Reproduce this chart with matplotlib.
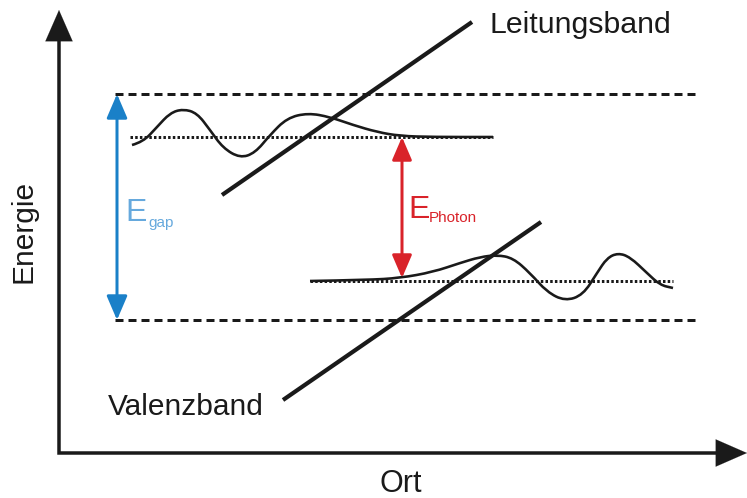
import matplotlib
matplotlib.use("Agg")
import matplotlib.pyplot as plt
from matplotlib.path import Path
from matplotlib.patches import PathPatch

plt.rcParams['font.family'] = ['Liberation Sans', 'DejaVu Sans']
plt.rcParams['lines.scale_dashes'] = False

# --- schematic data, in picture pixels (y down) ---
axis_origin = (59, 453)
axis_x_end = 747
axis_y_end = 10

band_edges_y = [94, 320]          # dashed: conduction / valence band edge
band_edges_x = [115, 697]
cond_level = (137, 130, 493)      # dotted: y, x0, x1
val_level = (281, 310, 673)

cond_band_line = [(222, 195), (472, 22)]
val_band_line = [(283, 400), (541, 222)]

# wave function (conduction side)
cond_wave_x = [132, 143, 157, 170, 183, 197, 210, 223, 240, 255, 270, 287,
               308, 330, 353, 377, 400, 433, 493]
cond_wave_y = [145, 142, 127, 113, 109, 113, 130, 148, 158, 153, 135, 118,
               113, 117, 125, 132, 136, 137, 137]
# wave function (valence side)
val_wave_x = [310, 367, 400, 433, 460, 480, 497, 513, 530, 547, 565, 583,
              597, 607, 618, 630, 647, 660, 673]
val_wave_y = [281, 280, 278, 272, 263, 257, 255, 258, 273, 292, 301, 295,
              273, 258, 253, 257, 273, 285, 288]

gap_arrow = (117, 94, 320)
photon_arrow = (402, 137, 278)

px = 0.72  # points per pixel at dpi 100


def smooth_path(xs, ys):
    pts = list(zip(xs, ys))
    verts = [pts[0]]
    codes = [Path.MOVETO]
    for i in range(1, len(pts) - 1):
        mid = ((pts[i][0] + pts[i + 1][0]) / 2, (pts[i][1] + pts[i + 1][1]) / 2)
        verts += [pts[i], mid]
        codes += [Path.CURVE3, Path.CURVE3]
    verts.append(pts[-1])
    codes.append(Path.LINETO)
    return Path(verts, codes)


fig = plt.figure(figsize=(7.47, 4.98), dpi=100)
ax = fig.add_axes([0, 0, 1, 1])
ax.set_xlim(0, 747)
ax.set_ylim(498, 0)
ax.axis('off')

# axes with arrow heads
ox, oy = axis_origin
ax.plot([ox, ox, axis_x_end - 20], [axis_y_end + 20, oy, oy], color='#1a1a1a',
        lw=3.5 * px, solid_joinstyle='miter', solid_capstyle='butt')
ax.annotate('', xy=(ox, axis_y_end), xytext=(ox, axis_y_end + 32),
            arrowprops=dict(arrowstyle='-|>,head_length=1.6,head_width=0.7',
                            mutation_scale=14, color='#1a1a1a', lw=0.1,
                            shrinkA=0, shrinkB=0))
ax.annotate('', xy=(axis_x_end, oy), xytext=(axis_x_end - 32, oy),
            arrowprops=dict(arrowstyle='-|>,head_length=1.6,head_width=0.7',
                            mutation_scale=14, color='#1a1a1a', lw=0.1,
                            shrinkA=0, shrinkB=0))

# band edges (dashed)
for y in band_edges_y:
    ln, = ax.plot(band_edges_x, [y, y], color='#1a1a1a', lw=3 * px,
                  solid_capstyle='butt')
    ln.set_dashes((8 * px, 5 * px))
    ln.set_dash_capstyle('butt')

# dotted levels
for y, x0, x1 in (cond_level, val_level):
    ln, = ax.plot([x0, x1], [y, y], color='#1a1a1a', lw=3 * px)
    ln.set_dashes((2.5 * px, 2.2 * px))
    ln.set_dash_capstyle('butt')

# tilted bands
for seg in (cond_band_line, val_band_line):
    ax.plot([seg[0][0], seg[1][0]], [seg[0][1], seg[1][1]], color='#1a1a1a',
            lw=4.2 * px, solid_capstyle='butt')

# wave functions
for xs, ys in ((cond_wave_x, cond_wave_y), (val_wave_x, val_wave_y)):
    ax.add_patch(PathPatch(smooth_path(xs, ys), fill=False, edgecolor='#1a1a1a',
                           lw=2.6 * px))

# energy arrows
gx, gy0, gy1 = gap_arrow
ax.annotate('', xy=(gx, gy0), xytext=(gx, gy1),
            arrowprops=dict(arrowstyle='<|-|>,head_length=1.05,head_width=0.45',
                            mutation_scale=14, color='#1a80c8', lw=3 * px,
                            shrinkA=0, shrinkB=0))
pxx, py0, py1 = photon_arrow
ax.annotate('', xy=(pxx, py0), xytext=(pxx, py1),
            arrowprops=dict(arrowstyle='<|-|>,head_length=1.0,head_width=0.43',
                            mutation_scale=14, color='#d9232a', lw=3 * px,
                            shrinkA=0, shrinkB=0))

# labels
ax.text(125, 221, 'E', color='#66a9dd', fontsize=23, va='baseline', ha='left')
ax.text(148, 227, 'gap', color='#66a9dd', fontsize=11, va='baseline', ha='left')
ax.text(408, 218, 'E', color='#d9232a', fontsize=23, va='baseline', ha='left')
ax.text(429, 222, 'Photon', color='#d9232a', fontsize=11, va='baseline', ha='left')

ax.text(490, 33, 'Leitungsband', fontsize=21.8, va='baseline', ha='left',
        color='#1a1a1a')
ax.text(108, 415, 'Valenzband', fontsize=21.5, va='baseline', ha='left',
        color='#1a1a1a')
ax.text(23, 231, 'Energie', fontsize=21.5, rotation=90, va='center', ha='center',
        color='#1a1a1a')
ax.text(401, 492, 'Ort', fontsize=22, va='baseline', ha='center', color='#1a1a1a')

fig.savefig('out.png', dpi=100)
